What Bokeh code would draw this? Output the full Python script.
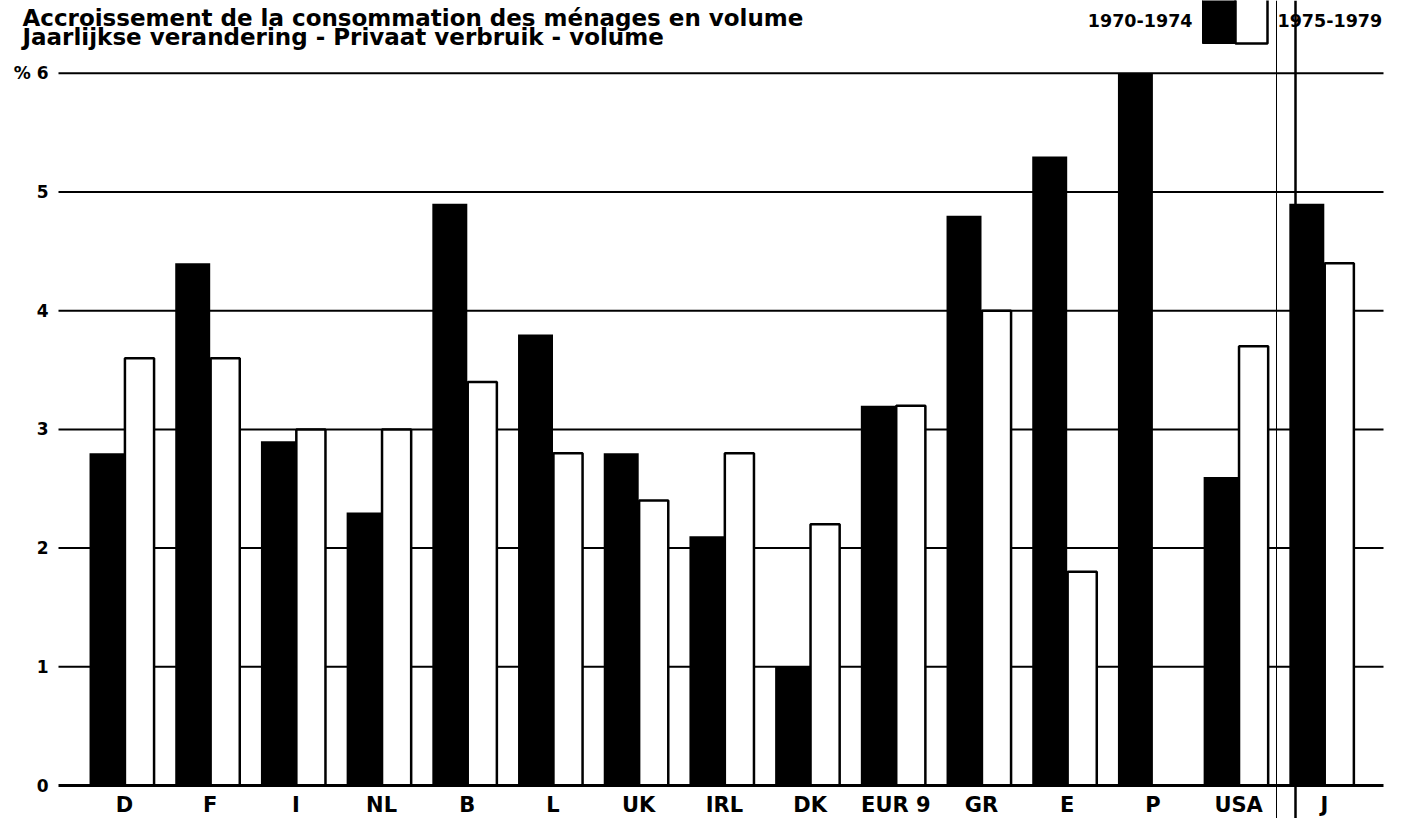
from bokeh.plotting import figure
from bokeh.models import FixedTicker, Span, Label, BoxAnnotation, Range1d
from bokeh.embed import file_html
from bokeh.resources import INLINE

# ---------------- data ----------------
categories = ["D", "F", "I", "NL", "B", "L", "UK", "IRL", "DK", "EUR 9", "GR", "E", "P", "USA", "J"]
growth_1970_1974 = [2.8, 4.4, 2.9, 2.3, 4.9, 3.8, 2.8, 2.1, 1.0, 3.2, 4.8, 5.3, 6.0, 2.6, 4.9]
growth_1975_1979 = [3.6, 3.6, 3.0, 3.0, 3.4, 2.8, 2.4, 2.8, 2.2, 3.2, 4.0, 1.8, None, 3.7, 4.4]
series_labels = ["1970-1974", "1975-1979"]
y_ticks = [0, 1, 2, 3, 4, 5, 6]
y_tick_labels = ["0", "1", "2", "3", "4", "5", "% 6"]
title_lines = ["Accroissement de la consommation des ménages en volume",
               "Jaarlijkse verandering - Privaat verbruik - volume"]

# ---------------- layout (page pixels) ----------------
W, H = 1402, 818
FONT = "DejaVu Sans"
PX0, PITCH = 124.0, 85.7      # page x of first category, pixels per category
Y0, PPU = 785.0, 118.7        # page y of value 0, pixels per unit
PLOT_L, PLOT_R = 58, 1383     # horizontal extent of grid / baseline


def xd(px):
    return (px - PX0) / PITCH


def yd(py):
    return (Y0 - py) / PPU


p = figure(width=W, height=H, title=None,
           x_range=Range1d(xd(0), xd(W)), y_range=Range1d(yd(H), yd(0)),
           output_backend="svg", toolbar_location=None,
           min_border_left=0, min_border_right=0, min_border_top=0, min_border_bottom=0)
p.outline_line_color = None
p.background_fill_color = "white"
p.border_fill_color = "white"

# grid (drawn as segments so it starts at the plot's left edge, not the page edge)
p.xgrid.visible = False
p.ygrid.visible = False
grid_vals = [t for t in y_ticks if t != 0]
p.segment(x0=[xd(PLOT_L)] * len(grid_vals), x1=[xd(PLOT_R)] * len(grid_vals),
          y0=grid_vals, y1=grid_vals, line_color="black", line_width=2)

# bars
idx = list(range(len(categories)))
b_w, w_w = 0.408, 0.34
p.vbar(x=[i - b_w / 2 for i in idx], top=growth_1970_1974, bottom=0, width=b_w,
       fill_color="black", line_color=None)
p.vbar(x=[i + 0.175 for i in idx],
       top=[float("nan") if v is None else v for v in growth_1975_1979], bottom=0, width=w_w,
       fill_color="white", line_color="black", line_width=2.5)

# x axis at value 0
xa = p.xaxis[0]
xa.fixed_location = 0
xa.bounds = (xd(PLOT_L), xd(PLOT_R))
xa.ticker = FixedTicker(ticks=idx)
xa.major_label_overrides = {i: c for i, c in zip(idx, categories)}
xa.axis_line_color = "black"
xa.axis_line_width = 3
xa.major_tick_line_color = None
xa.minor_tick_line_color = None
xa.major_tick_out = 0
xa.major_tick_in = 0
xa.major_label_standoff = 7
xa.major_label_text_font = FONT
xa.major_label_text_font_style = "bold"
xa.major_label_text_font_size = "21px"
xa.major_label_text_color = "black"

# y axis at the plot's left edge
ya = p.yaxis[0]
ya.fixed_location = xd(PLOT_L)
ya.ticker = FixedTicker(ticks=y_ticks)
ya.major_label_overrides = {t: l for t, l in zip(y_ticks, y_tick_labels)}
ya.axis_line_color = None
ya.major_tick_line_color = None
ya.minor_tick_line_color = None
ya.major_tick_out = 0
ya.major_tick_in = 0
ya.major_label_standoff = 10
ya.major_label_text_font = FONT
ya.major_label_text_font_style = "bold"
ya.major_label_text_font_size = "17px"
ya.major_label_text_color = "black"

# separator lines between USA and J
p.add_layout(Span(location=xd(1276), dimension="height", line_color="black", line_width=1))
p.add_layout(Span(location=xd(1295), dimension="height", line_color="black", line_width=2.5))

# title
for line, base in zip(title_lines, [17.5, 36.5]):
    p.add_layout(Label(x=xd(22), y=yd(base), text=line, text_font=FONT, text_font_style="bold",
                       text_font_size="23px", text_color="black",
                       text_align="left", text_baseline="alphabetic"))

# legend
p.add_layout(BoxAnnotation(left=xd(1202), right=xd(1235), top=yd(-10), bottom=yd(43),
                           fill_color="black", fill_alpha=1, line_color="black", line_alpha=1))
p.add_layout(BoxAnnotation(left=xd(1235), right=xd(1267), top=yd(-10), bottom=yd(43),
                           fill_color="white", fill_alpha=1, line_color="black", line_alpha=1,
                           line_width=2.5))
p.add_layout(Label(x=xd(1192), y=yd(20), text=series_labels[0], text_font=FONT,
                   text_font_style="bold", text_font_size="17.5px", text_color="black",
                   text_align="right", text_baseline="middle"))
p.add_layout(Label(x=xd(1277), y=yd(20), text=series_labels[1], text_font=FONT,
                   text_font_style="bold", text_font_size="17.5px", text_color="black",
                   text_align="left", text_baseline="middle"))

open("out.html", "w").write(file_html(p, INLINE))
